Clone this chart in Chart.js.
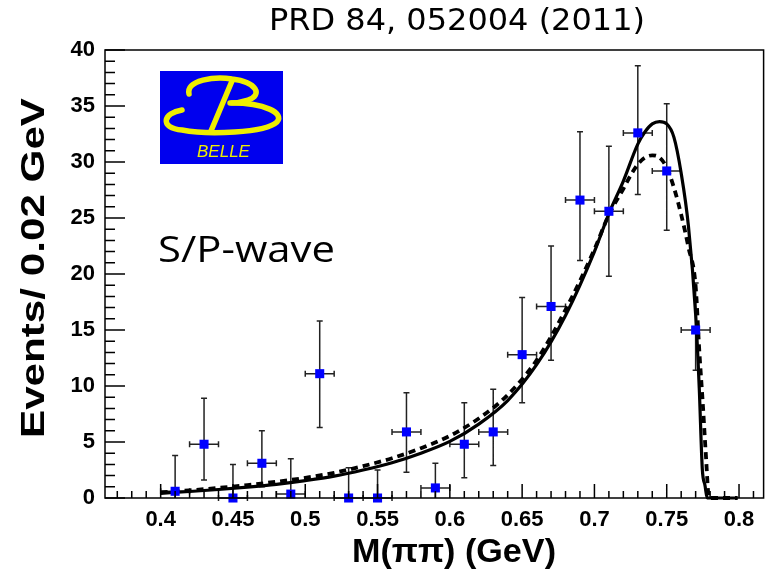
<!DOCTYPE html>
<html>
<head>
<meta charset="utf-8">
<script src="https://cdn.jsdelivr.net/npm/chart.js@4.4.1/dist/chart.umd.min.js"></script>
<style>
  html, body { margin: 0; padding: 0; background: #fff; }
  #wrap { width: 770px; height: 581px; }
</style>
</head>
<body>
<div id="wrap"><canvas id="chart" width="770" height="581"></canvas></div>
<script>
// Belle S/P-wave M(pipi) distribution
var binCenters = [0.41, 0.43, 0.45, 0.47, 0.49, 0.51, 0.53, 0.55, 0.57, 0.59,
                  0.61, 0.63, 0.65, 0.67, 0.69, 0.71, 0.73, 0.75, 0.77];
var events     = [0.6, 4.8, 0.0, 3.1, 0.35, 11.1, 0.0, 0.0, 5.9, 0.9,
                  4.8, 5.9, 12.8, 17.1, 26.6, 25.6, 32.6, 29.2, 15.0];
var errLow     = [0.0, 1.6, 0.0, 1.0, 0.0, 6.3, 0.0, 0.0, 2.3, 0.0,
                  1.8, 2.9, 8.5, 12.3, 21.2, 19.8, 27.1, 23.9, 11.4];
var errHigh    = [3.8, 8.9, 3.0, 6.0, 3.5, 15.8, 2.7, 2.5, 9.4, 3.1,
                  8.5, 9.7, 17.9, 22.5, 32.7, 31.4, 38.6, 35.2, 19.2];
var binHalfWidth = 0.01;

// solid fit curve
var fitMass = [0.400, 0.420, 0.440, 0.460, 0.480, 0.500, 0.520, 0.540, 0.560, 0.580,
               0.600, 0.620, 0.640, 0.660, 0.680, 0.700, 0.710, 0.720, 0.730, 0.735,
               0.740, 0.745, 0.750, 0.755, 0.760, 0.765, 0.770, 0.7725, 0.7746, 0.7765,
               0.778, 0.790, 0.799];
var fitFull = [0.42, 0.58, 0.76, 0.97, 1.22, 1.55, 1.95, 2.5, 3.15, 4.0,
               5.05, 6.6, 8.7, 11.9, 16.3, 22.0, 25.4, 28.3, 31.6, 32.7,
               33.4, 33.6, 33.4, 32.2, 29.0, 24.3, 16.4, 9.8, 2.6, 1.1,
               0, 0, 0];

// dashed fit curve
var dashMass = [0.400, 0.420, 0.440, 0.460, 0.480, 0.500, 0.520, 0.540, 0.560, 0.580,
                0.600, 0.620, 0.640, 0.660, 0.680, 0.700, 0.710, 0.720, 0.725, 0.730,
                0.735, 0.740, 0.745, 0.750, 0.755, 0.760, 0.765, 0.770, 0.7725, 0.775,
                0.777, 0.7793, 0.790, 0.799];
var fitDashed = [0.5, 0.68, 0.9, 1.15, 1.45, 1.8, 2.25, 2.85, 3.55, 4.45,
                 5.55, 7.1, 9.2, 12.3, 16.8, 22.2, 25.3, 27.6, 28.8, 29.8,
                 30.4, 30.6, 30.4, 29.5, 27.7, 25.3, 22.4, 18.9, 13.2, 8.3,
                 4.0, 0, 0, 0];

var xTickValues = [0.4, 0.45, 0.5, 0.55, 0.6, 0.65, 0.7, 0.75, 0.8];
var yTickStep = 5;

var TITLE_FONT = '"Liberation Sans", Arial, sans-serif';

function pairs(xs, ys) {
    var out = [];
    for (var i = 0; i < xs.length; i++) {
        out.push({ x: xs[i], y: ys[i] });
    }
    return out;
}

// ROOT-style frame with ticks on the inside
var framePlugin = {
    id: 'frame',
    afterDatasetsDraw: function (chart) {
        var ctx = chart.ctx;
        var a = chart.chartArea;
        var xs = chart.scales.x;
        var ys = chart.scales.y;
        ctx.save();
        ctx.strokeStyle = '#000';
        ctx.lineWidth = 1.5;
        ctx.strokeRect(a.left, a.top, a.right - a.left, a.bottom - a.top);
        ctx.beginPath();
        for (var v = 0; v <= 40; v++) {
            var py = ys.getPixelForValue(v);
            var len = (v % 5 === 0) ? 20 : 10;
            ctx.moveTo(a.left, py);
            ctx.lineTo(a.left + len, py);
        }
        for (var i = 37; i <= 81; i++) {
            var px = xs.getPixelForValue(i / 100);
            var l = (i % 5 === 0) ? 14 : 7;
            ctx.moveTo(px, a.bottom);
            ctx.lineTo(px, a.bottom - l);
        }
        ctx.stroke();
        ctx.restore();
    }
};

var errorBarPlugin = {
    id: 'errorBars',
    beforeDatasetsDraw: function (chart) {
        var ctx = chart.ctx;
        var xs = chart.scales.x;
        var ys = chart.scales.y;
        var cap = 3;
        ctx.save();
        ctx.strokeStyle = '#222';
        ctx.lineWidth = 1.5;
        ctx.beginPath();
        for (var i = 0; i < binCenters.length; i++) {
            var cx = xs.getPixelForValue(binCenters[i]);
            var cy = ys.getPixelForValue(events[i]);
            var top = ys.getPixelForValue(errHigh[i]);
            var bot = ys.getPixelForValue(errLow[i]);
            var lx = xs.getPixelForValue(binCenters[i] - binHalfWidth);
            var rx = xs.getPixelForValue(binCenters[i] + binHalfWidth);
            ctx.moveTo(cx, top); ctx.lineTo(cx, bot);
            ctx.moveTo(cx - cap, top); ctx.lineTo(cx + cap, top);
            if (errLow[i] > 0) {
                ctx.moveTo(cx - cap, bot); ctx.lineTo(cx + cap, bot);
            }
            ctx.moveTo(lx, cy); ctx.lineTo(rx, cy);
            ctx.moveTo(lx, cy - cap); ctx.lineTo(lx, cy + cap);
            ctx.moveTo(rx, cy - cap); ctx.lineTo(rx, cy + cap);
        }
        ctx.stroke();
        ctx.restore();
    }
};

function drawBelleLogo(ctx, x0, y0) {
    ctx.save();
    ctx.translate(x0, y0);
    ctx.fillStyle = '#0000ee';
    ctx.fillRect(0, 0, 123, 93);
    ctx.strokeStyle = '#eeee00';
    ctx.lineWidth = 5.5;
    ctx.lineCap = 'round';
    // upper bowl
    ctx.beginPath();
    ctx.moveTo(29, 23);
    ctx.bezierCurveTo(26, 9, 55, 5, 72, 8);
    ctx.bezierCurveTo(97, 11, 103, 24, 88, 29);
    ctx.bezierCurveTo(82, 31, 76, 32, 70, 32);
    ctx.stroke();
    // lower bowl
    ctx.beginPath();
    ctx.moveTo(22, 39);
    ctx.bezierCurveTo(3, 42, -1, 57, 22, 59);
    ctx.bezierCurveTo(48, 64, 105, 62, 117, 51);
    ctx.bezierCurveTo(125, 42, 104, 32, 72, 32);
    ctx.stroke();
    // stem
    ctx.beginPath();
    ctx.moveTo(72, 10);
    ctx.lineTo(51, 60);
    ctx.stroke();
    ctx.fillStyle = '#eeee00';
    ctx.font = 'italic 17px "Liberation Sans", Arial, sans-serif';
    ctx.textAlign = 'left';
    ctx.textBaseline = 'alphabetic';
    ctx.fillText('BELLE', 37, 86);
    ctx.restore();
}

// stretch a text along its own direction to a given length
function fillStretched(ctx, text, cx, cy, length, angle) {
    ctx.save();
    ctx.translate(cx, cy);
    ctx.rotate(angle);
    var w = ctx.measureText(text).width;
    ctx.scale(length / w, 1);
    ctx.fillText(text, 0, 0);
    ctx.restore();
}

var annotationPlugin = {
    id: 'annotations',
    afterDraw: function (chart) {
        var ctx = chart.ctx;
        ctx.save();
        ctx.fillStyle = '#000';
        ctx.textAlign = 'center';
        ctx.textBaseline = 'middle';
        ctx.font = '31px "DejaVu Sans", sans-serif';
        fillStretched(ctx, 'PRD 84, 052004 (2011)', 457, 22, 376, 0);

        ctx.font = 'bold 34px ' + TITLE_FONT;
        fillStretched(ctx, 'M(\u03c0\u03c0) (GeV)', 454, 553, 204, 0);
        fillStretched(ctx, 'Events/ 0.02 GeV', 35, 268, 340, -Math.PI / 2);

        ctx.textAlign = 'left';
        ctx.textBaseline = 'alphabetic';
        ctx.font = '36px "Open Sans", sans-serif';
        ctx.save();
        ctx.translate(158, 262);
        ctx.scale(177 / ctx.measureText('S/P-wave').width, 1);
        ctx.fillText('S/P-wave', 0, 0);
        ctx.restore();

        drawBelleLogo(ctx, 160, 71);
        ctx.restore();
    }
};

var tickFont = { family: TITLE_FONT, size: 22, weight: 'bold' };

new Chart(document.getElementById('chart'), {
    type: 'line',
    data: {
        datasets: [{
            type: 'scatter',
            label: 'Data',
            data: pairs(binCenters, events),
            pointStyle: 'rect',
            pointRadius: 6.4,
            pointHoverRadius: 6.4,
            backgroundColor: '#0000ff',
            borderColor: '#0000ff',
            borderWidth: 0,
            showLine: false,
            clip: false
        }, {
            label: 'Fit',
            data: pairs(fitMass, fitFull),
            borderColor: '#000',
            borderWidth: 3.2,
            pointRadius: 0,
            fill: false,
            clip: false,
            cubicInterpolationMode: 'monotone'
        }, {
            label: 'Fit (dashed)',
            data: pairs(dashMass, fitDashed),
            borderColor: '#000',
            borderWidth: 3.8,
            borderDash: [7, 5],
            pointRadius: 0,
            fill: false,
            clip: false,
            cubicInterpolationMode: 'monotone'
        }]
    },
    options: {
        responsive: false,
        animation: false,
        layout: { padding: { top: 50, right: 2, left: 0, bottom: 0 } },
        plugins: {
            legend: { display: false },
            tooltip: { enabled: false }
        },
        scales: {
            x: {
                type: 'linear',
                min: 0.3615,
                max: 0.817,
                afterBuildTicks: function (scale) {
                    scale.ticks = xTickValues.map(function (v) { return { value: v }; });
                },
                afterFit: function (scale) { scale.height = 83; },
                grid: { display: false, drawTicks: false },
                border: { display: false },
                ticks: {
                    font: tickFont,
                    color: '#000',
                    padding: 9,
                    maxRotation: 0,
                    autoSkip: false,
                    callback: function (v) { return String(Math.round(v * 100) / 100); }
                },
                title: { display: false }
            },
            y: {
                min: 0,
                max: 40,
                afterFit: function (scale) { scale.width = 105; },
                grid: { display: false, drawTicks: false },
                border: { display: false },
                ticks: {
                    stepSize: yTickStep,
                    font: tickFont,
                    color: '#000',
                    padding: 10
                },
                title: { display: false }
            }
        }
    },
    plugins: [errorBarPlugin, framePlugin, annotationPlugin]
});
</script>
</body>
</html>
